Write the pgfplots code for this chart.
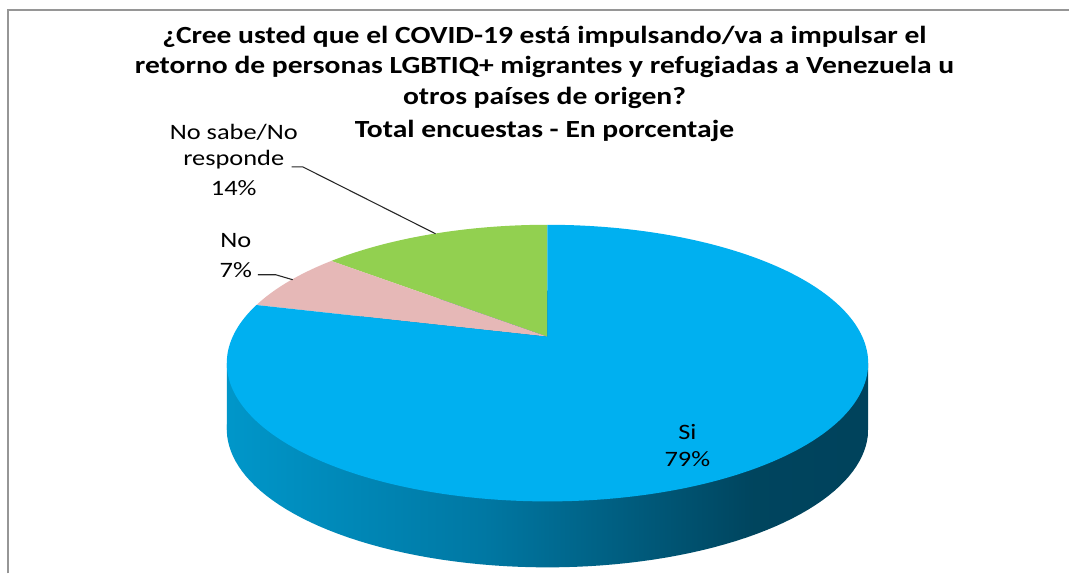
\documentclass[border=0pt]{standalone}
\usepackage{pgfplots}
\pgfplotsset{compat=1.18}
\usepackage{fontspec}
\setmainfont{Carlito}
\newfontfamily\wide[FakeStretch=1.2]{Carlito}
\definecolor{siblue}{RGB}{0,176,240}
\definecolor{nopink}{RGB}{230,184,183}
\definecolor{nsgreen}{RGB}{146,208,80}
\definecolor{framegray}{RGB}{150,150,150}
\pgfdeclarehorizontalshading{sideshade}{100bp}{rgb(0bp)=(0,0.59,0.79); rgb(25bp)=(0,0.59,0.79); rgb(45bp)=(0,0.47,0.64); rgb(66bp)=(0,0.27,0.37); rgb(75bp)=(0,0.26,0.36); rgb(100bp)=(0,0.26,0.36)}
% data (percent)
\def\pSi{79}
\def\pNo{7}
\def\pNS{14}
\begin{document}
\begin{tikzpicture}
\pgfmathsetmacro\aA{90}
\pgfmathsetmacro\aB{90+\pNS*3.6}
\pgfmathsetmacro\aC{\aB+\pNo*3.6}
\pgfmathsetmacro\aD{\aC+\pSi*3.6}
\begin{axis}[scale only axis, width=802.5pt, height=430.5pt,
  xmin=0, xmax=1070, ymin=0, ymax=574, hide axis, clip=false]
\addplot[fill=white, draw=none] coordinates {(0,0) (1070,0) (1070,574) (0,574)} -- cycle;
% frame
\addplot[framegray, line width=1.5pt] coordinates {(8,0) (8,564) (1070,564)};
% side of the pie
\addplot[shade, shading=sideshade, draw=none, domain=0:360, samples=181, variable=\t]
  ({548+315.1*cos(t)/(1+0.191*sin(t))},{237-66+133.4*sin(t)/(1+0.191*sin(t))}) -- cycle;
\addplot[shade, shading=sideshade, draw=none] coordinates {(227,210.55) (869,210.55) (869,144.55) (227,144.55)} -- cycle;
% top faces
\addplot[fill=nsgreen, draw=none, domain=\aA:\aB, samples=40, variable=\t]
  ({548+315.1*cos(t)/(1+0.191*sin(t))},{237+133.4*sin(t)/(1+0.191*sin(t))}) -- (axis cs:548,237) -- cycle;
\addplot[fill=nopink, draw=none, domain=\aB:\aC, samples=30, variable=\t]
  ({548+315.1*cos(t)/(1+0.191*sin(t))},{237+133.4*sin(t)/(1+0.191*sin(t))}) -- (axis cs:548,237) -- cycle;
\addplot[fill=siblue, draw=none, domain=\aC:\aD, samples=200, variable=\t]
  ({548+315.1*cos(t)/(1+0.191*sin(t))},{237+133.4*sin(t)/(1+0.191*sin(t))}) -- (axis cs:548,237) -- cycle;
% leader lines
\addplot[black!85, line width=0.8pt] coordinates {(292,407) (303,407) (436,340)};
\addplot[black!85, line width=0.8pt] coordinates {(258,299) (276,299) (293,294)};
% title
\node[font=\wide\bfseries\fontsize{18.5}{22}\selectfont] at (axis cs:545,537) {¿Cree usted que el COVID-19 está impulsando/va a impulsar el};
\node[font=\wide\bfseries\fontsize{18.5}{22}\selectfont] at (axis cs:545,507) {retorno de personas LGBTIQ+ migrantes y refugiadas a Venezuela u};
\node[font=\wide\bfseries\fontsize{18.5}{22}\selectfont] at (axis cs:545,476) {otros países de origen?};
\node[font=\wide\bfseries\fontsize{18.5}{22}\selectfont] at (axis cs:545,443) {Total encuestas - En porcentaje};
% labels
\node[font=\wide\fontsize{16.5}{20}\selectfont] at (axis cs:234,442) {No sabe/No};
\node[font=\wide\fontsize{16.5}{20}\selectfont] at (axis cs:234,414) {responde};
\node[font=\wide\fontsize{16.5}{20}\selectfont] at (axis cs:234,386) {\pNS\%};
\node[font=\wide\fontsize{16.5}{20}\selectfont] at (axis cs:236,333) {No};
\node[font=\wide\fontsize{16.5}{20}\selectfont] at (axis cs:236,304) {\pNo\%};
\node[font=\wide\fontsize{16.5}{20}\selectfont] at (axis cs:688,142) {Si};
\node[font=\wide\fontsize{16.5}{20}\selectfont] at (axis cs:688,114) {\pSi\%};
\end{axis}
\end{tikzpicture}
\end{document}
